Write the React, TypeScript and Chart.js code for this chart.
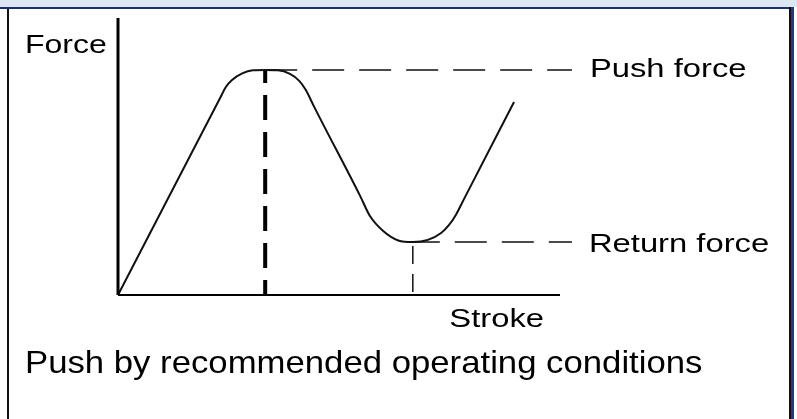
import React, { useEffect, useRef } from "react";
import { Chart, registerables } from "chart.js";

Chart.register(...registerables);

// Force–stroke curve (stroke 0..100 = axis length, force 0..100 = axis height)
const strokeValues = [
  0, 23.1, 24.4, 25.8, 28.1, 30.5, 33.3, 36.2, 38.9, 41.0, 42.5, 44.3,
  54.8, 57.0, 60.0, 63.4, 66.7, 70.1, 73.1, 74.9, 76.5, 78.3, 89.6,
];
const forceValues = [
  0, 71.1, 75.1, 77.6, 80.0, 81.1, 81.2, 81.1, 79.8, 77.3, 74.0, 68.2,
  35.7, 28.5, 23.1, 19.7, 19.1, 19.9, 22.4, 25.3, 29.1, 34.7, 69.7,
];

// Reference levels
const pushStroke = 33.3;
const pushForce = 81.2;
const returnStroke = 66.7;
const returnForce = 19.1;
const levelLineEnd = 102.7;

// Axis extents
const strokeAxisMax = 100;
const forceAxisMax = 100;

// Text
const yAxisTitle = "Force";
const xAxisTitle = "Stroke";
const levelLabels = ["Push force", "Return force"];
const caption = "Push by recommended operating conditions";

const FONT = '"Liberation Sans", Arial, Helvetica, sans-serif';
const INK = "#111";

const textPlugin = {
  id: "diagramText",
  afterDatasetsDraw(chart: any) {
    const { ctx, scales } = chart;
    const xs = scales.x;
    const ys = scales.y;
    const draw = (
      text: string,
      px: number,
      py: number,
      size: number,
      sx: number,
      align: CanvasTextAlign = "left"
    ) => {
      ctx.save();
      ctx.font = `${size}px ${FONT}`;
      ctx.fillStyle = "#000";
      ctx.textBaseline = "alphabetic";
      ctx.textAlign = align;
      ctx.translate(px, py);
      ctx.scale(sx, 1);
      ctx.fillText(text, 0, 0);
      ctx.restore();
    };
    const endX = xs.getPixelForValue(levelLineEnd);
    draw(yAxisTitle, 25, 53, 25, 1.28);
    draw(levelLabels[0], endX + 18, ys.getPixelForValue(pushForce) + 7, 25, 1.31);
    draw(levelLabels[1], endX + 17, ys.getPixelForValue(returnForce) + 10, 25, 1.31);
    draw(xAxisTitle, xs.getPixelForValue(strokeAxisMax) - 16, ys.getPixelForValue(0) + 32, 25, 1.31, "right");
    draw(caption, 25, 373, 32, 1.085);
  },
};

export default function App() {
  const canvasRef = useRef<HTMLCanvasElement | null>(null);

  useEffect(() => {
    const canvas = canvasRef.current;
    if (!canvas) return;

    const curve = strokeValues.map((s, i) => ({ x: s, y: forceValues[i] }));

    const chart = new Chart(canvas, {
      type: "line",
      data: {
        datasets: [
          {
            label: "Force axis",
            data: [
              { x: 0, y: 0 },
              { x: 0, y: forceAxisMax },
            ],
            borderColor: "#000",
            borderWidth: 3,
          },
          {
            label: "Stroke axis",
            data: [
              { x: 0, y: 0 },
              { x: strokeAxisMax, y: 0 },
            ],
            borderColor: "#000",
            borderWidth: 2,
          },
          {
            label: "Force",
            data: curve,
            borderColor: INK,
            borderWidth: 2,
            cubicInterpolationMode: "monotone",
          },
          {
            label: "Push stroke",
            data: [
              { x: pushStroke, y: pushForce },
              { x: pushStroke, y: 0 },
            ],
            borderColor: "#000",
            borderWidth: 4,
            borderDash: [25, 12],
            borderDashOffset: 12,
          },
          {
            label: "Push force level",
            data: [
              { x: pushStroke, y: pushForce },
              { x: levelLineEnd, y: pushForce },
            ],
            borderColor: INK,
            borderWidth: 1.5,
            borderDash: [32, 15],
            borderDashOffset: 0,
          },
          {
            label: "Return force level",
            data: [
              { x: returnStroke, y: returnForce },
              { x: levelLineEnd, y: returnForce },
            ],
            borderColor: INK,
            borderWidth: 1.5,
            borderDash: [32, 15],
            borderDashOffset: 5,
          },
          {
            label: "Return stroke",
            data: [
              { x: returnStroke, y: returnForce },
              { x: returnStroke, y: 0 },
            ],
            borderColor: INK,
            borderWidth: 1.5,
            borderDash: [18, 10],
            borderDashOffset: 24,
          },
        ],
      },
      options: {
        animation: false,
        responsive: false,
        maintainAspectRatio: false,
        devicePixelRatio: 1,
        layout: { padding: { left: 118, top: 18, right: 16, bottom: 124 } },
        scales: {
          x: { type: "linear", min: 0, max: 150, display: false },
          y: { type: "linear", min: 0, max: 100, display: false },
        },
        elements: {
          point: { radius: 0, hoverRadius: 0 },
          line: { fill: false, borderCapStyle: "butt" },
        },
        datasets: { line: { clip: false } as any },
        plugins: {
          legend: { display: false },
          tooltip: { enabled: false },
          title: { display: false },
        },
      } as any,
      plugins: [textPlugin],
    });

    return () => chart.destroy();
  }, []);

  return (
    <div
      style={{
        position: "absolute",
        left: 0,
        top: 0,
        width: 797,
        height: 419,
        background: "#fff",
        overflow: "hidden",
      }}
    >
      <div style={{ position: "absolute", left: 0, top: 0, width: 797, height: 7, background: "#dde7f3" }} />
      <div style={{ position: "absolute", left: 0, top: 7, width: 794, height: 2, background: "#1c2f6b" }} />
      <div style={{ position: "absolute", left: 7, top: 9, width: 2, height: 410, background: "#111" }} />
      <div style={{ position: "absolute", left: 789, top: 7, width: 2, height: 412, background: "#111" }} />
      <div style={{ position: "absolute", left: 791, top: 7, width: 3, height: 412, background: "#1c3a8f" }} />
      <canvas
        ref={canvasRef}
        width={797}
        height={419}
        style={{ position: "absolute", left: 0, top: 0, width: 797, height: 419 }}
      />
    </div>
  );
}
